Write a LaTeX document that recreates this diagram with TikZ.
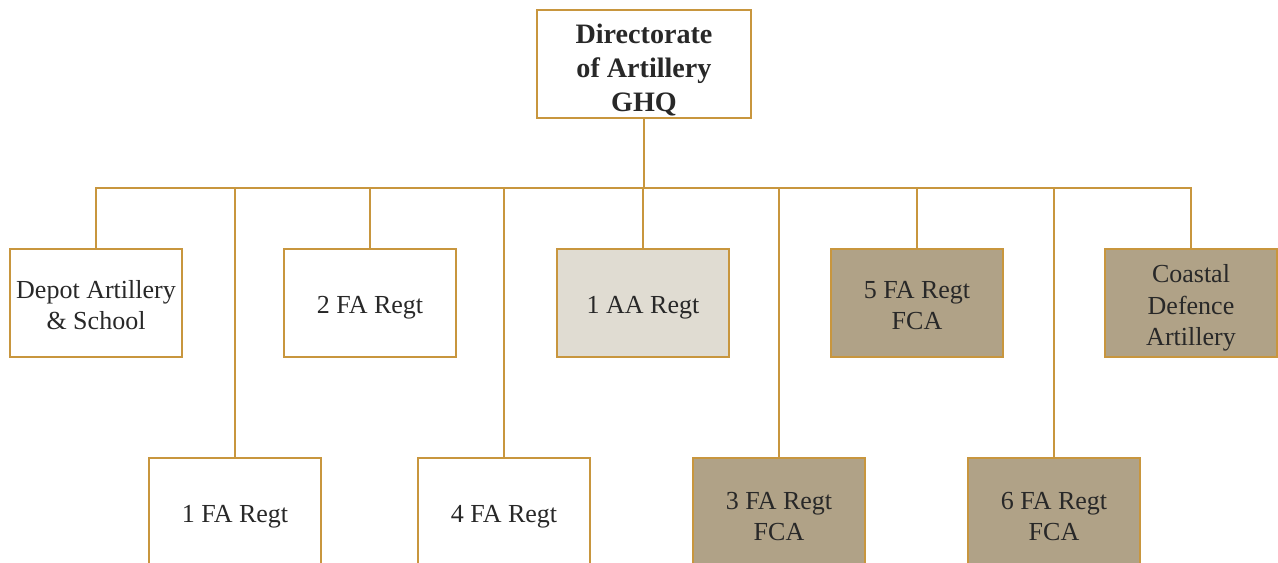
\documentclass[tikz,border=0pt]{standalone}
\usepackage{fontspec}
\setmainfont{Liberation Serif}
\definecolor{gold}{RGB}{200,150,62}
\definecolor{fcafill}{RGB}{176,162,135}
\definecolor{aafill}{RGB}{224,220,210}
\definecolor{ink}{RGB}{40,40,40}
\newcommand\lift[1]{\rule{0pt}{#1}}
\tikzset{
  unit/.style={draw=gold, line width=1.1pt, fill=white, text=ink, align=center,
    minimum width=3.44cm, minimum height=2.16cm, inner sep=0pt,
    font=\fontsize{14.8}{17.8}\selectfont},
  fca/.style={unit, fill=fcafill},
  aa/.style={unit, fill=aafill},
  link/.style={draw=gold, line width=0.9pt}
}
\begin{document}
\begin{tikzpicture}[x=0.02cm, y=-0.02cm]
  \useasboundingbox (0,0) rectangle (1278,562);
  \node[unit, font=\bfseries\fontsize{16}{19.3}\selectfont, minimum width=4.28cm] (dir) at (644,64) {\lift{18pt}Directorate\\of Artillery\\GHQ};
  \coordinate (bus) at (644,188);
  % first row
  \node[unit] (depot) at (96,303) {\lift{13pt}Depot Artillery\\\& School};
  \node[unit] (fa2) at (370,303) {\lift{15pt}2 FA Regt};
  \node[aa] (aa1) at (643,303) {\lift{15pt}1 AA Regt};
  \node[fca] (fa5) at (917,303) {\lift{13pt}5 FA Regt\\FCA};
  \node[fca] (coast) at (1191,303) {\lift{16pt}Coastal\\Defence\\Artillery};
  % second row
  \node[unit] (fa1) at (235,512) {\lift{15pt}1 FA Regt};
  \node[unit] (fa4) at (504,512) {\lift{15pt}4 FA Regt};
  \node[fca] (fa3) at (779,512) {\lift{15pt}3 FA Regt\\FCA};
  \node[fca] (fa6) at (1054,512) {\lift{15pt}6 FA Regt\\FCA};
  \draw[link] (dir.south) -- (dir.south |- bus);
  \draw[link] (depot.north) -- (depot.north |- bus) -- (coast.north |- bus) -- (coast.north);
  \foreach \u in {fa1,fa2,fa4,aa1,fa3,fa5,fa6}
    \draw[link] (\u.north) -- (\u.north |- bus);
\end{tikzpicture}
\end{document}
